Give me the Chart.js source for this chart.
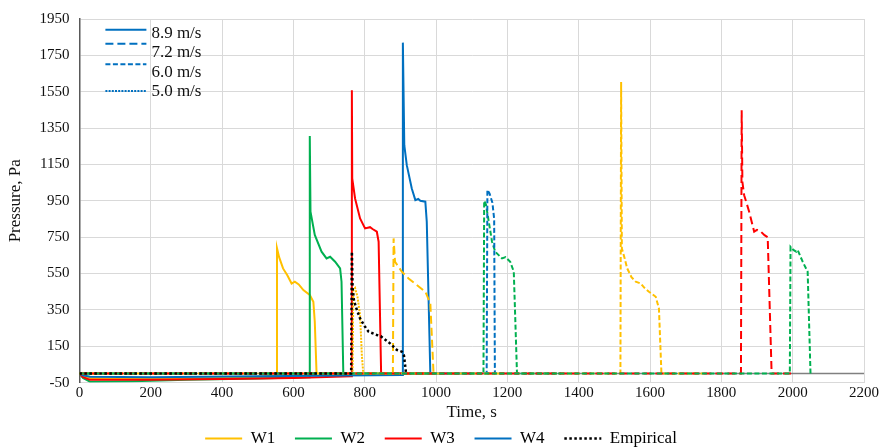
<!DOCTYPE html>
<html>
<head>
<meta charset="utf-8">
<script src="https://cdn.jsdelivr.net/npm/chart.js@4.4.1/dist/chart.umd.min.js"></script>
<style>
  html, body { margin: 0; padding: 0; background: #fff; }
  #wrap { width: 880px; height: 448px; position: relative; }
</style>
</head>
<body>
<div id="wrap"><canvas id="pressureChart"></canvas></div>
<script>
// axis ticks
const timeTicks = [0, 200, 400, 600, 800, 1000, 1200, 1400, 1600, 1800, 2000, 2200];
const pressureTicks = [-50, 150, 350, 550, 750, 950, 1150, 1350, 1550, 1750, 1950];

// W1..W4 at 8.9 m/s (solid)
const w1s89T = [0, 10, 30, 100, 200, 300, 400, 500, 552, 554, 560, 571, 583, 595, 604, 615, 628, 646, 656, 660, 665, 1000];
const w1s89P = [0, -15, -25, -30, -30, -28, -25, -18, -12, 690, 640, 578, 540, 495, 505, 490, 459, 432, 395, 285, 0, 0];
const w2s89T = [0, 10, 30, 150, 300, 500, 644, 646, 648, 660, 679, 693, 703, 717, 731, 735, 740, 1000];
const w2s89P = [0, -25, -45, -42, -35, -28, -20, 1307, 890, 762, 670, 633, 642, 615, 578, 505, 0, 0];
const w3s89T = [0, 10, 30, 200, 400, 600, 762, 764, 765, 773, 787, 801, 815, 822, 834, 839, 846, 1000];
const w3s89P = [0, -20, -35, -35, -30, -25, -15, 1558, 1073, 963, 853, 798, 805, 795, 780, 725, 0, 0];
const w4s89T = [0, 10, 30, 200, 500, 905, 907, 911, 918, 932, 942, 950, 956, 970, 974, 984, 1100];
const w4s89P = [0, -10, -18, -20, -15, -8, 1820, 1256, 1146, 1018, 954, 960, 950, 945, 835, 0, 0];

// 7.2 m/s (long dash)
const w1s72T = [0, 879, 881, 885, 904, 923, 946, 970, 984, 993, 1200];
const w1s72P = [0, 0, 743, 615, 560, 523, 487, 450, 386, 0, 0];
const w3s72T = [0, 1855, 1857, 1859, 1864, 1878, 1892, 1900, 1911, 1921, 1930, 1941, 2000];
const w3s72P = [0, 0, 1448, 1054, 981, 890, 780, 790, 780, 761, 750, 0, 0];

// 6.0 m/s (dash)
const w2s60aT = [0, 1133, 1135, 1140, 1157, 1166, 1185, 1195, 1208, 1218, 1227, 1350];
const w2s60aP = [0, 0, 950, 930, 725, 670, 633, 640, 615, 560, 0, 0];
const w4s60T = [0, 1142, 1144, 1150, 1158, 1163, 1165, 1350];
const w4s60P = [0, 0, 1010, 990, 940, 850, 0, 0];
const w1s60T = [0, 1517, 1519, 1521, 1528, 1536, 1548, 1560, 1574, 1585, 1597, 1616, 1625, 1632, 1750];
const w1s60P = [0, 0, 1604, 688, 640, 578, 530, 505, 495, 470, 450, 422, 358, 0, 0];
const w2s60bT = [0, 1992, 1994, 2002, 2010, 2014, 2028, 2042, 2050];
const w2s60bP = [0, 0, 697, 680, 670, 679, 615, 560, 0];

// 5.0 m/s (dotted)
const w1s50T = [0, 766, 768, 773, 780, 787, 792, 796, 1000];
const w1s50P = [0, 0, 460, 470, 420, 320, 100, 0, 0];

// Empirical
const empT = [0, 762, 764, 766, 770, 778, 787, 800, 811, 834, 845, 871, 890, 904, 910, 913, 916];
const empP = [0, 0, 670, 470, 400, 350, 303, 260, 230, 212, 205, 166, 130, 120, 100, 50, 0];

// zero line
const zeroT = [0, 2200];
const zeroP = [0, 0];

const turbineNames = ['W1', 'W2', 'W3', 'W4', 'Empirical'];
const turbineColors = ['#FFC000', '#00B050', '#FF0000', '#0070C0', '#000000'];
const speedLabels = ['8.9 m/s', '7.2 m/s', '6.0 m/s', '5.0 m/s'];
const speedDash = [[], [8, 4], [5, 2.5], [2, 1.2]];

const FONT = "'Liberation Serif', 'Times New Roman', serif";

function series(t, p, color, dash, width) {
  return {
    data: t.map((x, i) => ({ x: x, y: p[i] })),
    borderColor: color,
    borderWidth: width || 2,
    borderDash: dash,
    pointRadius: 0,
    tension: 0,
    fill: false
  };
}

const datasets = [
  series(empT, empP, '#000000', [2.5, 2.5], 2.5),
  series(w2s60bT, w2s60bP, turbineColors[1], speedDash[2]),
  series(w3s72T, w3s72P, turbineColors[2], speedDash[1]),
  series(w1s60T, w1s60P, turbineColors[0], speedDash[2]),
  series(w4s60T, w4s60P, turbineColors[3], speedDash[2]),
  series(w2s60aT, w2s60aP, turbineColors[1], speedDash[2]),
  series(w1s72T, w1s72P, turbineColors[0], speedDash[1]),
  series(w1s50T, w1s50P, turbineColors[0], speedDash[3]),
  series(w4s89T, w4s89P, turbineColors[3], []),
  series(w3s89T, w3s89P, turbineColors[2], []),
  series(w2s89T, w2s89P, turbineColors[1], []),
  series(w1s89T, w1s89P, turbineColors[0], []),
  series(zeroT, zeroP, '#808080', [], 1.5)
];

// legend for wind speeds (top left)
const speedLegend = {
  id: 'speedLegend',
  afterDraw(chart) {
    const ctx = chart.ctx;
    const a = chart.chartArea;
    const lineY = [10.7, 24.7, 45.3, 72];
    const textY = [14.7, 33.7, 53.7, 73];
    ctx.save();
    ctx.font = '17px ' + FONT;
    ctx.fillStyle = '#111';
    ctx.textBaseline = 'middle';
    speedLabels.forEach((lbl, i) => {
      ctx.beginPath();
      ctx.strokeStyle = '#0070C0';
      ctx.lineWidth = 2;
      ctx.setLineDash(speedDash[i]);
      ctx.moveTo(a.left + 26, a.top + lineY[i]);
      ctx.lineTo(a.left + 67, a.top + lineY[i]);
      ctx.stroke();
      ctx.setLineDash([]);
      ctx.fillText(lbl, a.left + 72, a.top + textY[i]);
    });
    ctx.restore();
  }
};

const ctx = document.getElementById('pressureChart').getContext('2d');
const pressureChart = new Chart(ctx, {
  type: 'line',
  data: { datasets: datasets },
  plugins: [speedLegend],
  options: {
    responsive: true,
    maintainAspectRatio: false,
    animation: false,
    layout: { padding: { top: 6, right: 3, left: 5, bottom: 0 } },
    plugins: {
      tooltip: { enabled: false },
      legend: {
        position: 'bottom',
        onClick: null,
        maxHeight: 25,
        labels: {
          font: { family: FONT, size: 17, lineHeight: 1 },
          color: '#111',
          usePointStyle: true,
          pointStyleWidth: 37,
          padding: 7,
          generateLabels: function () {
            return turbineNames.map((name, i) => ({
              text: i < 4 ? name + '   ' : name,
              strokeStyle: turbineColors[i],
              fillStyle: turbineColors[i],
              lineWidth: i === 4 ? 2.5 : 2,
              lineDash: i === 4 ? [2.5, 2.5] : [],
              pointStyle: 'line',
              hidden: false
            }));
          }
        }
      }
    },
    scales: {
      x: {
        type: 'linear',
        min: 0,
        max: 2200,
        afterBuildTicks: axis => { axis.ticks = timeTicks.map(v => ({ value: v })); },
        grid: { color: '#D9D9D9', drawTicks: false },
        border: { color: '#D9D9D9' },
        ticks: { font: { family: FONT, size: 15 }, color: '#111', padding: 1, maxRotation: 0, callback: v => String(v) },
        title: { display: true, text: 'Time, s', font: { family: FONT, size: 17 }, color: '#111', padding: { top: 0, bottom: 0 } }
      },
      y: {
        min: -50,
        max: 1950,
        afterBuildTicks: axis => { axis.ticks = pressureTicks.map(v => ({ value: v })); },
        grid: { color: '#D9D9D9', drawTicks: false },
        border: { color: '#595959', width: 1.5 },
        ticks: { font: { family: FONT, size: 15 }, color: '#111', padding: 10, callback: v => String(v) },
        title: { display: true, text: 'Pressure, Pa', font: { family: FONT, size: 17 }, color: '#111', padding: { top: 0, bottom: 4 } }
      }
    }
  }
});
</script>
</body>
</html>
